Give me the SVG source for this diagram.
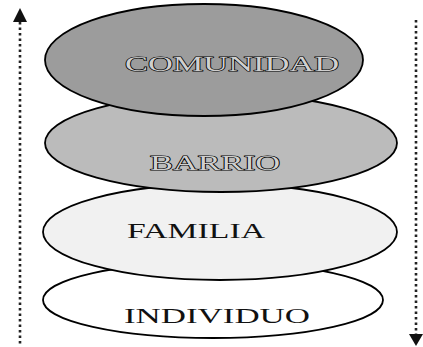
<svg xmlns="http://www.w3.org/2000/svg" width="423" height="347" viewBox="0 0 423 347">
<defs>
<style>
.lvl{stroke:#000;stroke-width:1.8}
.lbl{font-family:"Liberation Serif","DejaVu Serif",serif;text-anchor:start}
.dark{fill:#cfcfcf;stroke:#000;stroke-width:1.2;paint-order:stroke}
.plain{fill:#111}
.conn{stroke:#222;stroke-width:2.6;stroke-dasharray:2.5 3}
</style>
</defs>
<rect width="423" height="347" fill="#fff"/>
<g id="connectors">
<line class="conn" x1="20" y1="22" x2="20" y2="345"/>
<path d="M13,22 L20,8 L27,22 Z" fill="#111"/>
<line class="conn" x1="416" y1="20" x2="416" y2="334"/>
<path d="M409,334 L416,346 L423,334 Z" fill="#111"/>
</g>
<g id="individuo">
<ellipse class="lvl" cx="213" cy="300" rx="170" ry="38" fill="#ffffff"/>
<text class="lbl plain" x="124" y="323" font-size="22" textLength="186" lengthAdjust="spacingAndGlyphs">INDIVIDUO</text>
</g>
<g id="familia">
<ellipse class="lvl" cx="220" cy="232" rx="177" ry="48" fill="#f1f1f1"/>
<text class="lbl plain" x="127" y="238" font-size="20" textLength="138" lengthAdjust="spacingAndGlyphs">FAMILIA</text>
</g>
<g id="barrio">
<ellipse class="lvl" cx="221" cy="143" rx="176" ry="49" fill="#bbbbbb"/>
<text class="lbl dark" x="150" y="170" font-size="20" textLength="130" lengthAdjust="spacingAndGlyphs">BARRIO</text>
</g>
<g id="comunidad">
<ellipse class="lvl" cx="204" cy="60" rx="159" ry="56" fill="#9c9c9c"/>
<text class="lbl dark" x="125" y="71" font-size="22" textLength="214" lengthAdjust="spacingAndGlyphs">COMUNIDAD</text>
</g>
</svg>
